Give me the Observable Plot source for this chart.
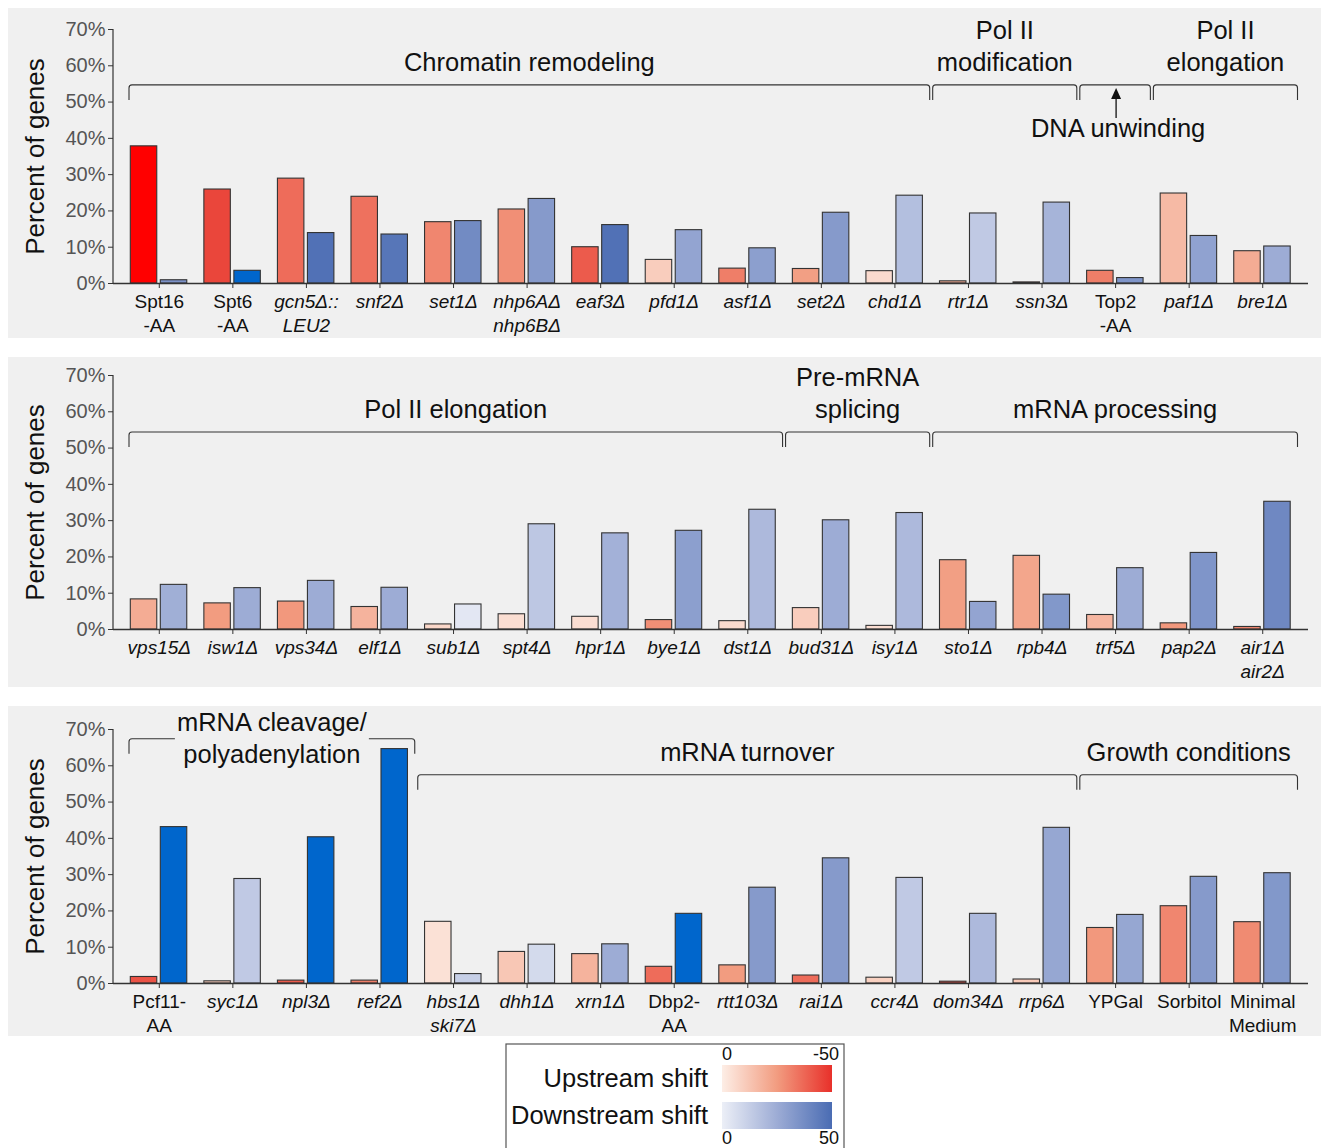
<!DOCTYPE html>
<html>
<head>
<meta charset="utf-8">
<script src="https://cdn.jsdelivr.net/npm/d3@7"></script>
<script src="https://cdn.jsdelivr.net/npm/@observablehq/plot@0.6"></script>
<style>
  html, body { margin: 0; padding: 0; background: #fff; overflow: hidden; }
  #wrap { position: relative; width: 1324px; height: 1148px; }
  .panel { position: absolute; left: 8px; }
  #legend { position: absolute; left: 505px; top: 1043px; }
</style>
</head>
<body>
<div id="wrap">
  <div class="panel" id="p1" style="top:8px"></div>
  <div class="panel" id="p2" style="top:357px"></div>
  <div class="panel" id="p3" style="top:706px"></div>
  <div id="legend"></div>
</div>
<script>
const FONT = "'Liberation Sans', Arial, Helvetica, sans-serif";

// ---------------- data ----------------
const yTicks = [0, 10, 20, 30, 40, 50, 60, 70];

// Panel 1
const cats1 = ["Spt16\n-AA", "Spt6\n-AA", "gcn5Δ::\nLEU2", "snf2Δ", "set1Δ", "nhp6AΔ\nnhp6BΔ", "eaf3Δ", "pfd1Δ",
  "asf1Δ", "set2Δ", "chd1Δ", "rtr1Δ", "ssn3Δ", "Top2\n-AA", "paf1Δ", "bre1Δ"];
const up1 = [37.8, 25.9, 28.9, 23.9, 16.9, 20.4, 10.0, 6.5, 4.1, 4.0, 3.4, 0.6, 0.3, 3.5, 24.8, 8.9];
const down1 = [0.9, 3.5, 13.9, 13.5, 17.2, 23.3, 16.1, 14.7, 9.7, 19.5, 24.2, 19.3, 22.3, 1.5, 13.1, 10.2];
const upShift1 = [-60, -45, -36, -35, -30, -28, -40, -10, -32, -24, -6, -20, -35, -32, -16, -20];
const downShift1 = [35, 60, 48, 46, 38, 32, 48, 28, 30, 32, 18, 14, 22, 34, 29, 25];
const groups1 = [
  {label: "Chromatin remodeling", from: 0, to: 10, level: 54.6},
  {label: "Pol II\nmodification", from: 11, to: 12, level: 54.6},
  {label: "DNA unwinding", from: 13, to: 13, level: 54.6, below: true},
  {label: "Pol II\nelongation", from: 14, to: 15, level: 54.6}
];

// Panel 2
const cats2 = ["vps15Δ", "isw1Δ", "vps34Δ", "elf1Δ", "sub1Δ", "spt4Δ", "hpr1Δ", "bye1Δ", "dst1Δ", "bud31Δ",
  "isy1Δ", "sto1Δ", "rpb4Δ", "trf5Δ", "pap2Δ", "air1Δ\nair2Δ"];
const up2 = [8.3, 7.2, 7.7, 6.2, 1.4, 4.2, 3.5, 2.6, 2.3, 5.9, 1.0, 19.1, 20.3, 4.0, 1.7, 0.7];
const down2 = [12.3, 11.4, 13.4, 11.5, 6.9, 29.0, 26.5, 27.2, 33.0, 30.1, 32.1, 7.6, 9.6, 16.9, 21.1, 35.2];
const upShift2 = [-20, -25, -26, -18, -7, -5, -5, -28, -6, -10, -5, -24, -22, -17, -26, -30];
const downShift2 = [24, 25, 25, 25, 3, 15, 23, 30, 20, 25, 20, 28, 33, 25, 34, 39];
const groups2 = [
  {label: "Pol II elongation", from: 0, to: 8, level: 54.3},
  {label: "Pre-mRNA\nsplicing", from: 9, to: 10, level: 54.3},
  {label: "mRNA processing", from: 11, to: 15, level: 54.3}
];

// Panel 3
const cats3 = ["Pcf11-\nAA", "syc1Δ", "npl3Δ", "ref2Δ", "hbs1Δ\nski7Δ", "dhh1Δ", "xrn1Δ", "Dbp2-\nAA", "rtt103Δ",
  "rai1Δ", "ccr4Δ", "dom34Δ", "rrp6Δ", "YPGal", "Sorbitol", "Minimal\nMedium"];
const up3 = [1.8, 0.6, 0.8, 0.8, 17.0, 8.7, 8.1, 4.6, 5.0, 2.2, 1.6, 0.5, 1.1, 15.3, 21.3, 16.9];
const down3 = [43.1, 28.8, 40.3, 64.6, 2.6, 10.7, 10.8, 19.2, 26.4, 34.5, 29.1, 19.2, 42.9, 18.9, 29.4, 30.4];
const upShift3 = [-42, -10, -40, -32, -4, -12, -18, -36, -25, -36, -9, -45, -11, -26, -30, -29];
const downShift3 = [60, 14, 60, 60, 12, 8, 25, 60, 32, 32, 14, 20, 27, 27, 32, 33];
const groups3 = [
  {label: "mRNA cleavage/\npolyadenylation", from: 0, to: 3, level: 67.3, split: true},
  {label: "mRNA turnover", from: 4, to: 12, level: 57.4},
  {label: "Growth conditions", from: 13, to: 15, level: 57.4}
];

// colour scale (signed shift: negative = upstream, positive = downstream)
const colorDomain = [-60, -50, -25, -0.01, 0.01, 25, 50, 60];
const colorRange = ["#ff0000", "#e8302a", "#f29c80", "#fdeee6", "#eceff7", "#9dacd5", "#4a6cb3", "#0066cc"];

// ---------------- drawing ----------------
const GROUP_FS = 25.5;
function annotations(cats, groups) {
  return (index, scales, values, dimensions) => {
    const {x, y} = scales;
    const bw = x.bandwidth();
    const g = d3.create("svg:g").attr("font-family", FONT);
    // y axis line
    g.append("line")
      .attr("x1", dimensions.marginLeft).attr("x2", dimensions.marginLeft)
      .attr("y1", y(0)).attr("y2", y(70))
      .attr("stroke", "#333").attr("stroke-width", 1.2);
    groups.forEach(gr => {
      const x0 = x(cats[gr.from]) + (gr.from === 0 ? 7 : 1.5);
      const x1 = x(cats[gr.to]) + bw - 1.5;
      const yl = y(gr.level), yb = yl + 15, r = 3;
      g.append("path")
        .attr("d", `M${x0},${yb}L${x0},${yl + r}Q${x0},${yl} ${x0 + r},${yl}L${x1 - r},${yl}Q${x1},${yl} ${x1},${yl + r}L${x1},${yb}`)
        .attr("fill", "none").attr("stroke", "#333").attr("stroke-width", 1.1);
      const cx = (x0 + x1) / 2;
      const lines = gr.label.split("\n");
      const txt = (tx, ty, s) => g.append("text").attr("x", tx).attr("y", ty).attr("text-anchor", "middle")
          .attr("dominant-baseline", "central").attr("font-size", GROUP_FS).attr("fill", "#111").text(s);
      if (gr.below) {
        // arrow pointing up to the bracket
        g.append("line").attr("x1", cx + 1).attr("x2", cx + 1).attr("y1", yl + 33).attr("y2", yl + 12)
          .attr("stroke", "#111").attr("stroke-width", 1.3);
        g.append("path").attr("d", `M${cx + 1},${yl + 3}L${cx - 4},${yl + 14}L${cx + 6},${yl + 14}Z`).attr("fill", "#111");
        txt(cx + 3, yl + 43, gr.label);
      } else if (gr.split) {
        g.append("rect").attr("x", cx - 97).attr("y", yl - 4).attr("width", 194).attr("height", 8).attr("fill", "#f0f0f0");
        txt(cx, yl - 17, lines[0]);
        txt(cx, yl + 15, lines[1]);
      } else {
        lines.forEach((ln, k) => txt(cx, yl - 23 - (lines.length - 1 - k) * 32, ln));
      }
    });
    return g.node();
  };
}

function panel(el, cats, up, down, upShift, downShift, groups, mt, mb) {
  const upData = cats.map((c, i) => ({cat: c, pct: up[i], shift: upShift[i]}));
  const downData = cats.map((c, i) => ({cat: c, pct: down[i], shift: downShift[i]}));
  const italic = cats.filter(c => c.includes("Δ"));
  const roman = cats.filter(c => !c.includes("Δ"));
  const axisOpts = {tickSize: 5, tickPadding: 3, fontSize: 19, lineHeight: 1.25, fill: "#111", stroke: "#333", label: null};
  const chart = Plot.plot({
    width: 1313, height: 330,
    marginLeft: 105, marginRight: 13, marginTop: mt, marginBottom: mb,
    style: {background: "#f0f0f0", fontFamily: FONT, overflow: "visible"},
    x: {type: "band", domain: cats, range: [114, 1291], padding: 0, round: false, axis: null},
    y: {domain: [0, 70], axis: null},
    color: {type: "linear", domain: colorDomain, range: colorRange, interpolate: "rgb"},
    marks: [
      Plot.barY(upData, {x: "cat", y: "pct", fill: "shift", stroke: "#333", strokeWidth: 1.1, insetLeft: 8.3, insetRight: 38.8}),
      Plot.barY(downData, {x: "cat", y: "pct", fill: "shift", stroke: "#333", strokeWidth: 1.1, insetLeft: 38.3, insetRight: 8.8}),
      Plot.ruleY([0], {stroke: "#333", strokeWidth: 1.3}),
      Plot.axisY(yTicks, {tickFormat: d => `${d}%`, tickSize: 5, tickPadding: 3, fontSize: 20, fill: "#555", stroke: "#333", label: null}),
      Plot.axisX(italic, {...axisOpts, fontStyle: "italic"}),
      Plot.axisX(roman, axisOpts),
      Plot.text(["Percent of genes"], {frameAnchor: "left", textAnchor: "middle", rotate: -90, dx: -78, fontSize: 26, fill: "#111"}),
      annotations(cats, groups)
    ]
  });
  document.getElementById(el).append(chart);
}

panel("p1", cats1, up1, down1, upShift1, downShift1, groups1, 21, 55);
panel("p2", cats2, up2, down2, upShift2, downShift2, groups2, 18, 58);
panel("p3", cats3, up3, down3, upShift3, downShift3, groups3, 23, 53);

// ---------------- legend ----------------
const legendItems = [
  {label: "Upstream shift", stops: [-0.01, -25, -50], ticks: ["0", "-50"], tickAbove: true},
  {label: "Downstream shift", stops: [0.01, 25, 50], ticks: ["0", "50"], tickAbove: false}
];
const cscale = d3.scaleLinear().domain(colorDomain).range(colorRange).interpolate(d3.interpolateRgb);
const lsvg = d3.create("svg").attr("width", 343).attr("height", 110).attr("font-family", FONT);
lsvg.append("rect").attr("x", 1).attr("y", 1).attr("width", 338).attr("height", 130)
  .attr("fill", "#fff").attr("stroke", "#555").attr("stroke-width", 1.2);
const defs = lsvg.append("defs");
legendItems.forEach((it, k) => {
  const id = "grad" + k;
  const grad = defs.append("linearGradient").attr("id", id);
  it.stops.forEach((s, j) => grad.append("stop").attr("offset", j / (it.stops.length - 1)).attr("stop-color", cscale(s)));
  const top = k === 0 ? 22 : 59;
  lsvg.append("rect").attr("x", 217).attr("y", top).attr("width", 110).attr("height", 27).attr("fill", `url(#${id})`);
  lsvg.append("text").attr("x", 203).attr("y", top + 13).attr("text-anchor", "end")
    .attr("dominant-baseline", "central").attr("font-size", 25.5).attr("fill", "#111").text(it.label);
  const ty = it.tickAbove ? 11 : 95;
  lsvg.append("text").attr("x", 217).attr("y", ty).attr("dominant-baseline", "central").attr("font-size", 18).attr("fill", "#111").text(it.ticks[0]);
  lsvg.append("text").attr("x", 334).attr("y", ty).attr("text-anchor", "end").attr("dominant-baseline", "central").attr("font-size", 18).attr("fill", "#111").text(it.ticks[1]);
});
document.getElementById("legend").append(lsvg.node());
</script>
</body>
</html>
